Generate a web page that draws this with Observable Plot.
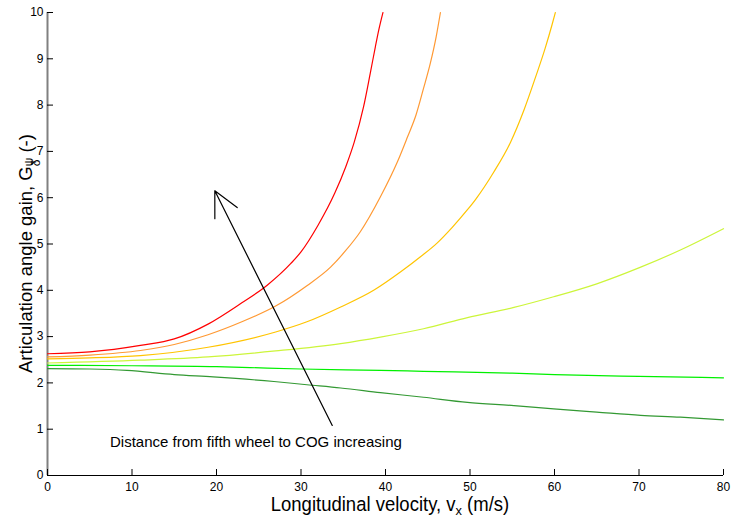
<!DOCTYPE html>
<html><head><meta charset="utf-8">
<script src="https://cdn.jsdelivr.net/npm/d3@7"></script>
<script src="https://cdn.jsdelivr.net/npm/@observablehq/plot@0.6"></script>
<style>body{margin:0;background:#fff} svg{display:block}</style>
</head><body><div id="chart"></div>
<script>
// Longitudinal velocity (m/s) and articulation angle gain per curve
const vRed = [0, 5, 11, 15, 19, 23, 26, 28.8, 30, 32, 34, 35.3, 36.3, 37.4, 38.2, 38.8, 39.2, 39.7];
const gRed = [2.63, 2.67, 2.81, 2.95, 3.27, 3.73, 4.11, 4.58, 4.83, 5.4, 6.1, 6.67, 7.2, 7.96, 8.69, 9.26, 9.62, 10.0];
const vOrange = [0, 5, 11, 15, 19, 23, 27, 30.7, 33.5, 35.3, 37, 39.4, 41.4, 42.6, 43.6, 44.5, 45.3, 46, 46.5];
const gOrange = [2.56, 2.6, 2.7, 2.83, 3.04, 3.32, 3.66, 4.1, 4.5, 4.86, 5.26, 6.02, 6.77, 7.31, 7.78, 8.36, 8.9, 9.48, 10.0];
const vYellow = [0, 5, 11, 19, 27, 30.7, 34.7, 38.6, 41.8, 44.1, 46.1, 47.9, 49.7, 50.65, 52.8, 54.8, 56.4, 57.75, 58.9, 59.7, 60.1];
const gYellow = [2.52, 2.54, 2.59, 2.77, 3.1, 3.32, 3.64, 4.0, 4.4, 4.72, 5.02, 5.36, 5.74, 5.96, 6.55, 7.2, 7.9, 8.6, 9.23, 9.73, 10.0];
const vLime = [0, 11, 19, 27, 34.7, 39.4, 44.5, 49.7, 55.2, 59.9, 65, 70.2, 74.9, 80];
const gLime = [2.43, 2.49, 2.56, 2.69, 2.85, 2.99, 3.17, 3.41, 3.63, 3.86, 4.14, 4.5, 4.87, 5.33];
const vGreen = [0, 10, 20, 26, 30, 39.4, 44.5, 55, 60, 70, 80];
const gGreen = [2.38, 2.37, 2.35, 2.32, 2.3, 2.27, 2.25, 2.21, 2.18, 2.14, 2.11];
const vDark = [0, 5, 9.4, 15, 19.6, 26.8, 30.7, 34.7, 39.4, 44.5, 49.7, 55.2, 59.9, 65, 70.2, 74.9, 80];
const gDark = [2.31, 2.3, 2.27, 2.18, 2.13, 2.03, 1.96, 1.89, 1.79, 1.69, 1.58, 1.51, 1.44, 1.37, 1.3, 1.26, 1.2];

const seriesNames = ["red", "orange", "yellow", "lime", "green", "dark"];
const seriesColors = ["#ff0000", "#ff9933", "#ffc400", "#ccf53a", "#00f000", "#339933"];
const seriesV = [vRed, vOrange, vYellow, vLime, vGreen, vDark];
const seriesG = [gRed, gOrange, gYellow, gLime, gGreen, gDark];

const xTicks = [0, 10, 20, 30, 40, 50, 60, 70, 80];
const yTicks = [0, 1, 2, 3, 4, 5, 6, 7, 8, 9, 10];

const arrowData = [{x1: 33.7, y1: 1.08, x2: 19.8, y2: 6.15}];
const noteData = [{x: 7.4, y: 0.71, text: "Distance from fifth wheel to COG increasing"}];

const rows = seriesNames.flatMap((name, k) => seriesV[k].map((v, i) => ({series: name, v, g: seriesG[k][i]})));

const chart = Plot.plot({
  width: 731, height: 517,
  marginLeft: 47, marginRight: 8, marginTop: 12, marginBottom: 42,
  style: {fontFamily: "'Liberation Sans', Arial, sans-serif", fontSize: "12px", color: "#000", background: "#fff"},
  x: {domain: [0, 80], label: null},
  y: {domain: [0, 10], label: null},
  color: {domain: seriesNames, range: seriesColors},
  marks: [
    Plot.ruleX([0], {stroke: "#808080", strokeWidth: 2}),
    Plot.ruleY([0], {stroke: "#000", strokeWidth: 1}),
    Plot.axisX(xTicks, {tickSize: -6, tickPadding: 13, stroke: "#000"}),
    Plot.axisY(yTicks, {tickSize: -6, tickPadding: 10, stroke: "#000"}),
    Plot.line(rows, {x: "v", y: "g", z: "series", stroke: "series", strokeWidth: 1.2, curve: "monotone-x"}),
    Plot.arrow(arrowData, {x1: "x1", y1: "y1", x2: "x2", y2: "y2", stroke: "#000", strokeWidth: 1.2, headLength: 35, headAngle: 53}),
    Plot.text(noteData, {x: "x", y: "y", text: "text", textAnchor: "start", fontSize: 15, fill: "#000"})
  ]
});

const svg = d3.select(chart);
const ylab = svg.append("text")
  .attr("transform", "translate(32,373) rotate(-90)")
  .attr("text-anchor", "start")
  .style("font-size", "18.5px").attr("fill", "#000");
ylab.append("tspan").text("Articulation angle gain, G");
ylab.append("tspan").attr("dy", 8).style("font-size", "12px").text("δ");
ylab.append("tspan").attr("dx", -6.7).attr("dy", -7).style("font-size", "12px").text("ψ");
ylab.append("tspan").attr("dy", -1).text(" (-)");

const xlab = svg.append("text")
  .attr("transform", "translate(390,511) scale(0.95,1)")
  .attr("text-anchor", "middle")
  .style("font-size", "19.5px").attr("fill", "#000");
xlab.append("tspan").text("Longitudinal velocity, v");
xlab.append("tspan").attr("dy", 4).style("font-size", "13.5px").text("x");
xlab.append("tspan").attr("dy", -4).text(" (m/s)");

document.getElementById("chart").appendChild(chart);
</script>
</body></html>
